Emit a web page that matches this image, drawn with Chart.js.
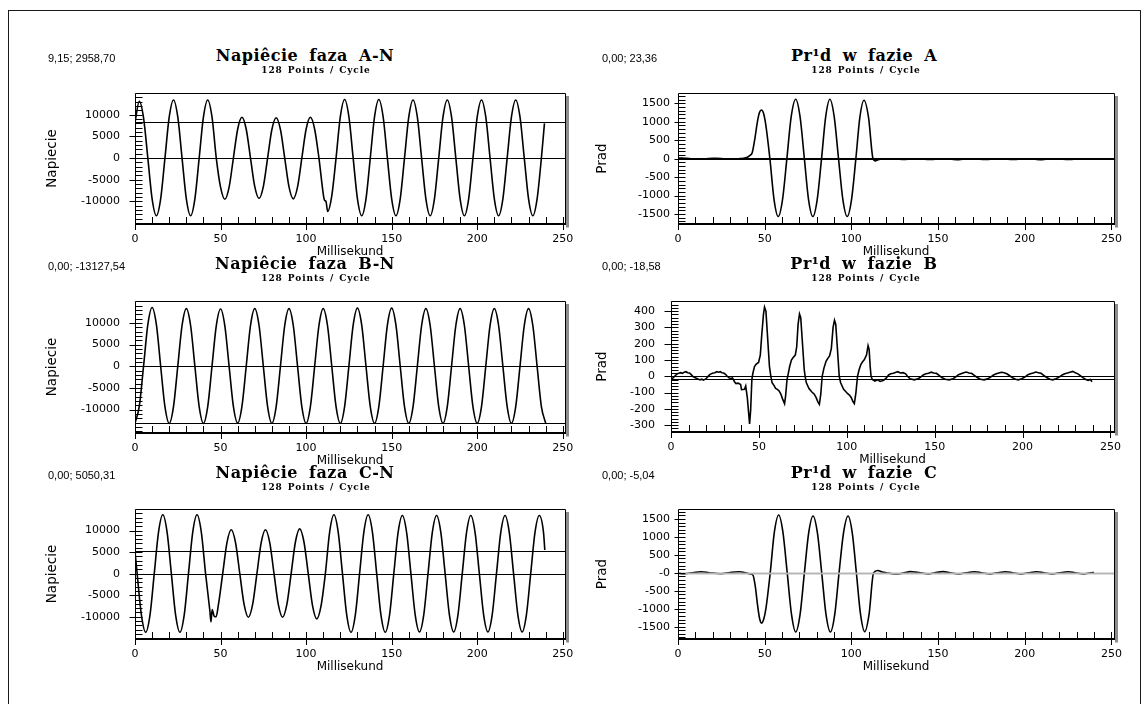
<!DOCTYPE html>
<html lang="pl">
<head>
<meta charset="utf-8">
<title>Napiecie i prad</title>
<script src="https://cdn.jsdelivr.net/npm/chart.js@4.4.1/dist/chart.umd.min.js"></script>
<style>
  html, body { margin: 0; background: #fff; }
  #sheet { position: relative; width: 1147px; height: 704px; overflow: hidden; background: #fff; }
  #frame { position: absolute; left: 8px; top: 10px; width: 1131px; height: 760px; border: 1px solid #1a1a1a; }
  #sheet canvas { position: absolute; }
  .lbl { position: absolute; white-space: nowrap; color: #000; z-index: 2; }
  .title { width: 360px; margin-left: -180px; text-align: center; font: bold 16px/16px 'DejaVu Serif', serif; letter-spacing: 0.5px; word-spacing: 5px; }
  .sub { width: 220px; margin-left: -110px; text-align: center; font: bold 9px/9px 'DejaVu Serif', serif; letter-spacing: 0.9px; word-spacing: 1px; }
  .coord { font: 11px/11px 'Liberation Sans', Arial, sans-serif; }
</style>
</head>
<body>
<div id="sheet"><div id="frame"></div></div>
<script>
// --- values (time in ms) ---
const timeTicks = [0, 50, 100, 150, 200, 250];
const voltTicks = [-10000, -5000, 0, 5000, 10000];
const currTicks = [-1500, -1000, -500, 0, 500, 1000, 1500];
const currBTicks = [-300, -200, -100, 0, 100, 200, 300, 400];

// zero line + cursor level for each trace
const levelsVoltA = [0, 8200];
const levelsVoltB = [0, -13127.54];
const levelsVoltC = [0, 5200];
const levelsCurrA = [0, 23.36];
const levelsCurrB = [0, -18.58];
const levelsCurrC = [0, -5.04];

const voltATime = [
  0, 2.5, 5, 7.5, 10, 12.5, 15, 17.5,
  20, 22.5, 25, 27.5, 30, 32.5, 35, 37.5,
  40, 42.5, 45, 47.5, 50, 52.5, 55, 57.5,
  60, 62.5, 65, 67.5, 70, 72.5, 75, 77.5,
  80, 82.5, 85, 87.5, 90, 92.5, 95, 97.5,
  100, 102.5, 105, 107.5, 110.3, 110.9, 111.6, 112.6, 115, 117.5,
  120, 122.5, 125, 127.5, 130, 132.5, 135, 137.5,
  140, 142.5, 145, 147.5, 150, 152.5, 155, 157.5,
  160, 162.5, 165, 167.5, 170, 172.5, 175, 177.5,
  180, 182.5, 185, 187.5, 190, 192.5, 195, 197.5,
  200, 202.5, 205, 207.5, 210, 212.5, 215, 217.5,
  220, 222.5, 225, 227.5, 230, 232.5, 235, 237.5,
  239.3,
];
const voltA = [
  8200, 13100, 9260, 0, -9400, -13300, -9400, 0,
  9470, 13400, 9470, 0, -9400, -13300, -9400, 0,
  9470, 13400, 9470, 0, -6700, -9500, -6700, 0,
  6650, 9400, 6650, 0, -6580, -9300, -6580, 0,
  6580, 9300, 6580, 0, -6650, -9400, -6650, 0,
  6650, 9400, 6650, 0, -9000, -9800, -10000, -12300, -8700, 0,
  9540, 13500, 9540, 0, -9400, -13300, -9400, 0,
  9540, 13500, 9540, 0, -9400, -13300, -9400, 0,
  9470, 13400, 9470, 0, -9400, -13300, -9400, 0,
  9470, 13400, 9470, 0, -9400, -13300, -9400, 0,
  9470, 13400, 9470, 0, -9400, -13300, -9400, 0,
  9470, 13400, 9470, 0, -9400, -13300, -9400, 0,
  8000,
];

const voltBTime = [
  0, 2.5, 5, 7.5, 10, 12.5, 15, 17.5,
  20, 22.5, 25, 27.5, 30, 32.5, 35, 37.5,
  40, 42.5, 45, 47.5, 50, 52.5, 55, 57.5,
  60, 62.5, 65, 67.5, 70, 72.5, 75, 77.5,
  80, 82.5, 85, 87.5, 90, 92.5, 95, 97.5,
  100, 102.5, 105, 107.5, 110, 112.5, 115, 117.5,
  120, 122.5, 125, 127.5, 130, 132.5, 135, 137.5,
  140, 142.5, 145, 147.5, 150, 152.5, 155, 157.5,
  160, 162.5, 165, 167.5, 170, 172.5, 175, 177.5,
  180, 182.5, 185, 187.5, 190, 192.5, 195, 197.5,
  200, 202.5, 205, 207.5, 210, 212.5, 215, 217.5,
  220, 222.5, 225, 227.5, 230, 232.5, 235, 237.5,
  240,
];
const voltB = [
  -13130, -9280, 0, 9580, 13550, 9580, 0, -9330,
  -13200, -9330, 0, 9400, 13300, 9400, 0, -9330,
  -13200, -9330, 0, 9330, 13200, 9330, 0, -9260,
  -13100, -9260, 0, 9400, 13300, 9400, 0, -9300,
  -13150, -9300, 0, 9400, 13300, 9400, 0, -9300,
  -13150, -9300, 0, 9400, 13300, 9400, 0, -9300,
  -13150, -9300, 0, 9470, 13400, 9470, 0, -9300,
  -13150, -9300, 0, 9470, 13400, 9470, 0, -9300,
  -13150, -9300, 0, 9400, 13300, 9400, 0, -9300,
  -13150, -9300, 0, 9400, 13300, 9400, 0, -9300,
  -13150, -9300, 0, 9400, 13300, 9400, 0, -9300,
  -13150, -9300, 0, 9400, 13300, 9400, 0, -9300,
  -13130,
];

const voltCTime = [
  0, 1.25, 3.75, 6.25, 8.75, 11.25, 13.75, 16.25, 18.75,
  21.25, 23.75, 26.25, 28.75, 31.25, 33.75, 36.25, 38.75,
  41.25, 43.75, 44.4, 45.1, 46.2, 47.4, 48.75, 51.25, 53.75, 56.25, 58.75,
  61.25, 63.75, 66.25, 68.75, 71.25, 73.75, 76.25, 78.75,
  81.25, 83.75, 86.25, 88.75, 91.25, 93.75, 96.25, 98.75,
  101.25, 103.75, 106.25, 108.75, 111.25, 113.75, 116.25, 118.75,
  121.25, 123.75, 126.25, 128.75, 131.25, 133.75, 136.25, 138.75,
  141.25, 143.75, 146.25, 148.75, 151.25, 153.75, 156.25, 158.75,
  161.25, 163.75, 166.25, 168.75, 171.25, 173.75, 176.25, 178.75,
  181.25, 183.75, 186.25, 188.75, 191.25, 193.75, 196.25, 198.75,
  201.25, 203.75, 206.25, 208.75, 211.25, 213.75, 216.25, 218.75,
  221.25, 223.75, 226.25, 228.75, 231.25, 233.75, 236.25, 238.75,
  239.5,
];
const voltC = [
  5200, 0, -9620, -13600, -9620, 0, 9650, 13650, 9650,
  0, -9620, -13600, -9620, 0, 9650, 13650, 9650,
  0, -8600, -11200, -8300, -9800, -10000, -7200, 0, 7210, 10200, 7210,
  0, -7140, -10100, -7140, 0, 7210, 10200, 7210,
  0, -7140, -10100, -7140, 0, 7350, 10400, 7350,
  0, -7420, -10500, -7420, 0, 9650, 13650, 9650,
  0, -9620, -13600, -9620, 0, 9650, 13650, 9650,
  0, -9620, -13600, -9620, 0, 9540, 13500, 9540,
  0, -9540, -13500, -9540, 0, 9540, 13500, 9540,
  0, -9540, -13500, -9540, 0, 9540, 13500, 9540,
  0, -9540, -13500, -9540, 0, 9540, 13500, 9540,
  0, -9540, -13500, -9540, 0, 9540, 13500, 9540,
  5500,
];

const currATime = [
  0, 2.5, 5, 7.5, 10, 12.5, 15, 17.5, 20, 22.5, 25, 27.5, 30, 32.5, 35, 37.5,
  40, 41.5, 42.8, 44.2, 45.8, 47, 48.1, 49.3, 50.6,
  53, 55.4, 57.8, 60.3, 62.8, 65.3, 67.9, 70.4, 72.9, 75.3, 77.8, 80.3, 82.8,
  85.2, 87.6, 90.1, 92.6, 95.1, 97.6, 100.1, 102.6, 104.9, 107.3, 109.9, 112.5,
  113.8, 115.4, 117.5,
  122, 126, 130, 134, 138, 142, 146, 150, 154, 158, 162, 166, 170, 174, 178,
  182, 186, 190, 194, 198, 202, 206, 210, 214, 218, 222, 226, 230, 234, 238, 240,
];
const currA = [
  23, 15, 8, -2, -10, -12, -8, 5, 12, 10, 3, -6, -10, -8, 0, 10,
  40, 90, 160, 500, 1000, 1250, 1320, 1240, 930,
  0, -1107, -1566, -1107, 0, 1140, 1612, 1140, 0, -1107, -1566, -1107, 0,
  1140, 1612, 1140, 0, -1107, -1566, -1107, 0, 1120, 1585, 1120, 0,
  -60, -30, -10,
  -15, -5, -20, -10, 0, -15, -20, -5, 0, -15, -25, -10, 0, -15, -20,
  -5, 0, -15, -20, -5, 0, -15, -25, -10, 0, -15, -20, -5, 0, -15, -10,
];

const currBTime = [
  0, 1.2, 2.5, 3.5, 4.5, 5.5, 6.5, 7.5, 8.5, 9.5,
  10.5, 11.5, 12.5, 13.5, 15, 16.5, 17.5, 18.5, 20, 21,
  22, 23, 24, 25, 26, 27, 28, 29, 30, 31,
  32, 33, 34, 35, 36.2, 37, 38.2, 39.6, 40.1, 41.8,
  42.5, 43.4, 44.7, 45.3, 46, 46.6, 47.5, 48.5, 49.8, 50.8,
  51.6, 52.6, 53.2, 54, 55, 56, 56.8, 57.5, 58.5, 59.5,
  60.5, 61.5, 62.5, 63.5, 64.6, 65.2, 66, 66.6, 67.5, 68.5,
  69.5, 70.7, 71.5, 72.3, 73.1, 73.8, 74.8, 75.8, 76.3, 77,
  78.5, 80, 81.5, 82.5, 83.5, 84.4, 85.2, 86, 87, 88.2,
  89.2, 90.2, 91.2, 92.2, 93, 93.7, 94.6, 95.7, 96.5, 98.2,
  99.5, 100.5, 101.5, 102.5, 103.5, 104.3, 105.2, 106.1, 107, 108,
  109, 110, 111.2, 112.1, 112.7, 113.3, 113.8, 114.5, 116, 117.5,
  119, 121, 122.5, 123.8, 125, 126.5, 128, 129, 130.5, 132,
  133.5, 134.5, 136, 138.4, 140.5, 142, 143.5, 145, 146.5, 148,
  149.5, 151, 152.5, 154, 156, 158.2, 160.5, 162, 163.5, 165,
  166.5, 168, 169.5, 171, 172.5, 174, 176, 178.1, 180, 182,
  183.5, 185, 186.5, 188, 189.5, 191, 192.5, 194, 196, 197.6,
  199.5, 201.5, 203, 204.5, 206, 207.5, 209, 210.5, 212, 213.5,
  215.5, 217.2, 219, 221, 222.5, 224, 225.5, 227, 228.5, 230,
  231.5, 233, 234.5, 236, 237.3, 238.5, 239.5,
];
const currB = [
  -18.6, -10, 5, 15, 18, 22, 18, 25, 28, 22,
  20, 10, -2, -8, -15, -22, -18, -24, -15, -2,
  10, 16, 20, 22, 28, 25, 28, 22, 20, 12,
  0, -10, -14, -10, -35, -45, -42, -50, -82, -80,
  -60, -130, -292, -210, -20, 20, 60, 75, 85, 130,
  250, 380, 425, 400, 230, 60, 0, -40, -55, -75,
  -80, -90, -110, -140, -168, -120, -20, 10, 60, 100,
  115, 130, 180, 320, 382, 360, 200, 40, 0, -40,
  -75, -95, -110, -130, -155, -172, -110, 0, 50, 92,
  110, 125, 170, 300, 344, 320, 180, 0, -40, -80,
  -95, -107, -115, -130, -155, -168, -100, 0, 40, 72,
  90, 102, 130, 188, 165, 60, 0, -20, -30, -22,
  -32, -25, -10, 8, 15, 18, 25, 28, 20, 22,
  15, 0, -15, -22, -15, -5, 8, 15, 18, 25,
  20, 18, 5, -8, -18, -22, -15, -3, 10, 16,
  22, 26, 20, 18, 6, -6, -18, -22, -16, -4,
  8, 15, 20, 25, 22, 15, 5, -8, -18, -22,
  -15, -3, 10, 16, 20, 26, 22, 18, 6, -6,
  -18, -22, -15, -4, 8, 16, 20, 25, 30, 22,
  15, 3, -10, -20, -25, -20, -33,
];

const currCTime = [
  0, 3, 8, 13.6, 18, 24.6, 30, 35, 39, 41.5,
  43.2, 44.5, 45.9, 47.1, 48.2, 49.4, 50.7, 53.2, 55.6, 58.1,
  60.5, 63, 65.5, 67.9, 70.4, 72.9, 75.4, 77.9, 80.4, 82.9,
  85.4, 87.9, 90.4, 92.9, 95.5, 98.1, 100.5, 102.9, 105.3, 107.7,
  110.2, 112.8, 115.3, 117.5, 120, 125, 128, 131, 134, 137,
  140, 144.5, 148, 153, 157, 162, 166, 171, 175, 180,
  184, 189, 193, 198, 202, 207, 211, 216, 220, 225,
  229, 234, 238, 240,
];
const currC = [
  -5, -30, 5, 30, 5, -25, 10, 30, 5, -30,
  -60, -350, -900, -1280, -1400, -1300, -1000, 0, 1140, 1612,
  1140, 0, -1167, -1650, -1167, 0, 1120, 1585, 1120, 0,
  -1167, -1650, -1167, 0, 1120, 1585, 1120, 0, -1160, -1640,
  -1160, 0, 67, 30, 5, -30, -25, 10, 35, 20,
  0, -30, 0, 35, 5, -30, 0, 30, 5, -30,
  0, 30, 5, -30, 0, 30, 5, -30, 0, 30,
  5, -30, 0, 10,
];

// --- layout of the sheet ---
const PAD_T = 25;
const PAD_R = 20;
const X_AXIS_H = 39;

const panels = [
  {
    left: 40, top: 93, plotH: 131, yW: 95, plotW: 430, xMax: 251.3, yMin: -15200, yMax: 15000,
    yTitle: 'Napiecie', majors: voltTicks, minorStep: 1000, labelPad: 15, outTick: 6,
    time: voltATime, values: voltA, smooth: true, levels: levelsVoltA, levelColor: '#000',
    title: 'Napiêcie faza A-N', titleX: 305, subX: 316, coord: '9,15; 2958,70', coordX: 48, row: 0,
  },
  {
    left: 590, top: 93, plotH: 131, yW: 88, plotW: 436, xMax: 251.5, yMin: -1770, yMax: 1780,
    yTitle: 'Prad', majors: currTicks, minorStep: 100, labelPad: 8, outTick: 4,
    time: currATime, values: currA, smooth: true, levels: levelsCurrA, levelColor: '#000',
    title: 'Pr¹d w fazie A', titleX: 864, subX: 866, coord: '0,00; 23,36', coordX: 602, row: 0,
  },
  {
    left: 40, top: 301, plotH: 132, yW: 95, plotW: 430, xMax: 251.3, yMin: -15400, yMax: 15050,
    yTitle: 'Napiecie', majors: voltTicks, minorStep: 1000, labelPad: 15, outTick: 6,
    time: voltBTime, values: voltB, smooth: true, levels: levelsVoltB, levelColor: '#000',
    title: 'Napiêcie faza B-N', titleX: 305, subX: 316, coord: '0,00; -13127,54', coordX: 48, row: 1,
  },
  {
    left: 590, top: 301, plotH: 131, yW: 81, plotW: 443, xMax: 252, yMin: -342, yMax: 462,
    yTitle: 'Prad', majors: currBTicks, minorStep: 20, labelPad: 16, outTick: 7,
    time: currBTime, values: currB, smooth: false, levels: levelsCurrB, levelColor: '#000',
    title: 'Pr¹d w fazie B', titleX: 864, subX: 866, coord: '0,00; -18,58', coordX: 602, row: 1,
  },
  {
    left: 40, top: 509, plotH: 130, yW: 95, plotW: 430, xMax: 251.3, yMin: -15150, yMax: 15000,
    yTitle: 'Napiecie', majors: voltTicks, minorStep: 1000, labelPad: 15, outTick: 6,
    time: voltCTime, values: voltC, smooth: true, levels: levelsVoltC, levelColor: '#000',
    title: 'Napiêcie faza C-N', titleX: 305, subX: 316, coord: '0,00; 5050,31', coordX: 48, row: 2,
  },
  {
    left: 590, top: 509, plotH: 130, yW: 88, plotW: 436, xMax: 251.5, yMin: -1843, yMax: 1779,
    yTitle: 'Prad', majors: currTicks, minorStep: 100, labelPad: 8, outTick: 4, minusZero: true,
    time: currCTime, values: currC, smooth: true, levels: levelsCurrC, levelColor: '#b4b4b4',
    title: 'Pr¹d w fazie C', titleX: 864, subX: 866, coord: '0,00; -5,04', coordX: 602, row: 2,
  },
];
const rowShift = [0, 208, 417];

// frame, shadow, ticks and level lines like on the scope printout
const scopeFrame = {
  id: 'scopeFrame',
  afterDatasetsDraw(chart, args, opts) {
    const { ctx, chartArea: a } = chart;
    const { x, y } = chart.scales;
    const seg = (x1, y1, x2, y2) => {
      ctx.beginPath(); ctx.moveTo(x1, y1); ctx.lineTo(x2, y2); ctx.stroke();
    };
    const L = Math.round(a.left) + 0.5;
    const R = Math.round(a.right) + 0.5;
    const T = Math.round(a.top) + 0.5;
    const B = Math.round(a.bottom);
    ctx.save();
    opts.levels.forEach((v) => {
      const py = Math.round(y.getPixelForValue(v)) + 0.5;
      ctx.strokeStyle = opts.levelColor;
      ctx.lineWidth = opts.levelColor === '#000' ? 1 : 1.5;
      seg(L, py, R, py);
    });
    ctx.fillStyle = '#8c8c8c';
    ctx.fillRect(R + 0.5, T + 2.5, 3, B - T + 1);
    ctx.strokeStyle = '#000';
    ctx.lineWidth = 1;
    seg(L, T, R, T);
    seg(R, T, R, B);
    seg(L, T, L, B + 6);
    ctx.fillStyle = '#000';
    ctx.fillRect(L - 0.5, B - 1, R - L + 1, 2);
    for (let t = 0; t <= 250; t += 10) {
      const px = Math.round(x.getPixelForValue(t)) + 0.5;
      seg(px, B - 7, px, t % 50 === 0 ? B + 6 : B);
    }
    for (let v = Math.ceil(y.min / opts.minorStep) * opts.minorStep; v <= y.max; v += opts.minorStep) {
      const py = Math.round(y.getPixelForValue(v)) + 0.5;
      seg(L, py, L + 7, py);
    }
    y.ticks.forEach((tk) => {
      const py = Math.round(y.getPixelForValue(tk.value)) + 0.5;
      seg(L - opts.outTick, py, L, py);
    });
    ctx.restore();
  },
};

Chart.defaults.font.family = "'DejaVu Sans', sans-serif";
Chart.defaults.color = '#000';

const sheet = document.getElementById('sheet');

const addLabel = (cls, text, left, top) => {
  const el = document.createElement('div');
  el.className = `lbl ${cls}`;
  el.textContent = text;
  el.style.left = `${left}px`;
  el.style.top = `${top}px`;
  sheet.appendChild(el);
};

panels.forEach((p) => {
  const dy = rowShift[p.row];
  addLabel('title', p.title, p.titleX, 47.5 + dy);
  addLabel('sub', '128 Points / Cycle', p.subX, 65.5 + dy);
  addLabel('coord', p.coord, p.coordX, 52.5 + dy);

  const canvas = document.createElement('canvas');
  canvas.width = p.yW + p.plotW + PAD_R;
  canvas.height = PAD_T + p.plotH + X_AXIS_H;
  canvas.style.left = `${p.left}px`;
  canvas.style.top = `${p.top - PAD_T}px`;
  sheet.appendChild(canvas);

  new Chart(canvas, {
    type: 'line',
    data: {
      datasets: [{
        data: p.time.map((t, i) => ({ x: t, y: p.values[i] })),
        borderColor: '#000',
        borderWidth: 1.6,
        pointRadius: 0,
        fill: false,
        tension: p.smooth ? 0.4 : 0,
        cubicInterpolationMode: p.smooth ? 'monotone' : 'default',
      }],
    },
    options: {
      responsive: false,
      animation: false,
      devicePixelRatio: 1,
      events: [],
      layout: { padding: { top: PAD_T, right: PAD_R, left: 0, bottom: 0 } },
      plugins: {
        legend: { display: false },
        tooltip: { enabled: false },
        scopeFrame: {
          levels: p.levels, levelColor: p.levelColor, minorStep: p.minorStep, outTick: p.outTick,
        },
      },
      scales: {
        x: {
          type: 'linear',
          min: 0,
          max: p.xMax,
          afterBuildTicks: (s) => { s.ticks = timeTicks.map((v) => ({ value: v })); },
          afterFit: (s) => { s.height = X_AXIS_H; },
          grid: { display: false, drawTicks: false },
          border: { display: false },
          ticks: {
            font: { size: 11 }, padding: 9, maxRotation: 0, autoSkip: false,
            callback: (v) => String(v),
          },
          title: { display: true, text: 'Millisekund', font: { size: 12 } },
        },
        y: {
          type: 'linear',
          min: p.yMin,
          max: p.yMax,
          afterBuildTicks: (s) => { s.ticks = p.majors.map((v) => ({ value: v })); },
          afterFit: (s) => { s.width = p.yW; },
          grid: { display: false, drawTicks: false },
          border: { display: false },
          ticks: {
            font: { size: 11 }, padding: p.labelPad, autoSkip: false,
            callback: (v) => (p.minusZero && v === 0 ? '-0' : String(v)),
          },
          title: { display: true, text: p.yTitle, font: { size: 13.5 } },
        },
      },
    },
    plugins: [scopeFrame],
  });
});
</script>
</body>
</html>
